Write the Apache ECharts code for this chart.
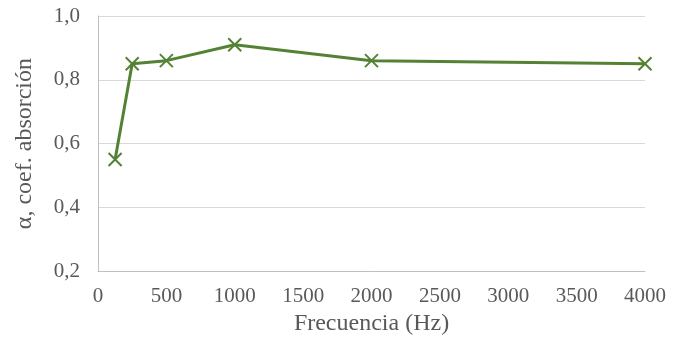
<!DOCTYPE html>
<html><head><meta charset="utf-8">
<script src="https://cdn.jsdelivr.net/npm/echarts@6/dist/echarts.min.js"></script>
<style>html,body{margin:0;padding:0;background:#fff}#c{width:684px;height:341px}</style>
</head><body><div id="c"></div>
<script>
const freqs = [125, 250, 500, 1000, 2000, 4000];
const alphaValues = [0.55, 0.85, 0.86, 0.91, 0.86, 0.85];
const xTitle = 'Frecuencia (Hz)';
const yTitle = 'α, coef. absorción';

const chart = echarts.init(document.getElementById('c'));
const font = '"Liberation Serif", "Times New Roman", serif';
chart.setOption({
  animation: false,
  grid: {left: 98, right: 39, top: 16, bottom: 67},
  xAxis: {
    type: 'value', min: 0, max: 4000, interval: 500,
    name: xTitle, nameLocation: 'middle', nameGap: 38,
    nameTextStyle: {fontFamily: font, fontSize: 24, color: '#595959'},
    axisLine: {show: true, lineStyle: {color: '#bfbfbf', width: 1}},
    axisTick: {show: false},
    splitLine: {show: false},
    axisLabel: {fontFamily: font, fontSize: 21, color: '#595959', margin: 15,
      formatter: v => String(v)}
  },
  yAxis: {
    type: 'value', min: 0.2, max: 1.0, interval: 0.2,
    name: yTitle, nameLocation: 'middle', nameGap: 61, nameRotate: 90,
    nameTextStyle: {fontFamily: font, fontSize: 24, color: '#595959'},
    axisLine: {show: true, lineStyle: {color: '#bfbfbf', width: 1}},
    axisTick: {show: false},
    splitLine: {show: true, lineStyle: {color: '#d9d9d9', width: 1}},
    axisLabel: {fontFamily: font, fontSize: 21, color: '#595959', margin: 18,
      formatter: v => v.toFixed(1).replace('.', ',')}
  },
  series: [{
    type: 'line',
    data: freqs.map((f, i) => [f, alphaValues[i]]),
    lineStyle: {color: '#548235', width: 3},
    symbol: 'path://M0,0L10,10M10,0L0,10',
    symbolSize: 13,
    itemStyle: {color: 'none', borderColor: '#548235', borderWidth: 2},
    showSymbol: true
  }]
});
</script></body></html>
